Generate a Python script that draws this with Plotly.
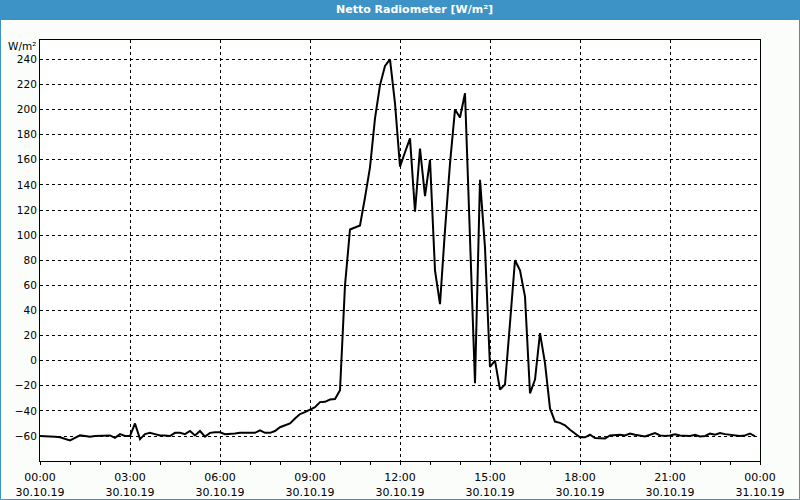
import pandas as pd
import plotly.graph_objects as go

# ---- data (10-minute samples, 30.10.2019 00:00 .. 23:50) ----
start_time = "2019-10-30 00:00"
values = [
    -60, -60, -60, -60.5, -61, -62.5, -63.5, -61.5, -59.5, -60, -60.5, -60,
    -60, -60, -59.5, -61.5, -58.5, -60, -60, -50, -62.5, -58.5, -57.5, -58.5,
    -59.5, -59.5, -60, -57.5, -57.5, -58.5, -56, -59.5, -56, -60.5, -57.5, -57,
    -57, -58.5, -58.5, -58, -57.5, -57.5, -57.5, -57.5, -55.5, -57.5, -57.5, -56,
    -53, -51.5, -50, -46, -42.5, -41, -39, -37, -33, -32.8, -31, -30.6,
    -23.5, 60, 104.5, 106, 107.7, 130, 154, 193, 219.5, 234.7, 240, 205,
    154.5, 166, 177, 118.6, 169, 131, 160, 72, 45, 104, 157, 200,
    193.7, 213, 90, -18, 144, 90, -5, 0, -23, -19, 30, 80,
    72, 51, -26, -15, 22, -2, -38, -48.5, -49.5, -51.5, -55, -58,
    -61, -61, -59, -61.6, -62, -62, -59.5, -59, -59, -59.5, -58, -59,
    -59.5, -60.3, -59, -57.6, -59.5, -60, -59.5, -58.7, -59.5, -60, -60, -59,
    -60.3, -60, -58, -59, -57.6, -58.5, -59, -59.5, -60, -59.5, -58, -60.3,
]
times = pd.date_range(start_time, periods=len(values), freq="10min")

tick_vals = ["2019-10-30 00:00", "2019-10-30 03:00", "2019-10-30 06:00",
             "2019-10-30 09:00", "2019-10-30 12:00", "2019-10-30 15:00",
             "2019-10-30 18:00", "2019-10-30 21:00", "2019-10-31 00:00"]
tick_hours = ["00:00", "03:00", "06:00", "09:00", "12:00", "15:00", "18:00", "21:00", "00:00"]
tick_dates = ["30.10.19"] * 8 + ["31.10.19"]
y_ticks = [240, 220, 200, 180, 160, 140, 120, 100, 80, 60, 40, 20, 0, -20, -40, -60]

title_text = "Netto Radiometer [W/m²]"
unit_text = "W/m²"

BLUE = "#3d93c6"
BG = "#fbfdfb"
FONT = "DejaVu Sans"

fig = go.Figure()
fig.add_trace(go.Scatter(x=times, y=values, mode="lines",
                         line=dict(color="black", width=2), hoverinfo="skip"))

W, H = 800, 500
L, R, T, B = 40, 40, 40, 39
pw, ph = W - L - R, H - T - B

def px_x(px):
    return (px - L) / pw

def px_y(py):
    return (H - B - py) / ph

fig.update_layout(
    width=W, height=H,
    margin=dict(l=L, r=R, t=T, b=B, autoexpand=False),
    paper_bgcolor=BG, plot_bgcolor="white",
    showlegend=False,
    font=dict(family=FONT, size=10.5, color="black"),
    xaxis=dict(
        type="date",
        range=["2019-10-30 00:00", "2019-10-31 00:00"],
        tickvals=tick_vals,
        ticktext=[f"{h}<br>{d}" for h, d in zip(tick_hours, tick_dates)],
        tickfont=dict(family=FONT, size=11, color="black"),
        ticks="outside", ticklen=3, tickcolor="black", tickwidth=1,
        ticklabelstandoff=3,
        minor=dict(dtick=3600000, ticks="outside", ticklen=3, tickcolor="black", showgrid=False),
        showgrid=True, gridcolor="black", gridwidth=1, griddash="3px,3px",
        showline=True, linecolor="black", linewidth=1, mirror=True,
        zeroline=False, fixedrange=True, automargin=False,
    ),
    yaxis=dict(
        range=[-79.9, 255.4],
        tickvals=y_ticks,
        ticks="", ticklen=0,
        showgrid=True, gridcolor="black", gridwidth=1, griddash="3px,3px",
        showline=True, linecolor="black", linewidth=1, mirror=True,
        zeroline=False, fixedrange=True, automargin=False,
    ),
    shapes=[
        dict(type="rect", xref="paper", yref="paper",
             x0=px_x(0), x1=px_x(W), y0=px_y(20), y1=px_y(0),
             fillcolor=BLUE, line=dict(width=0), layer="above"),
        dict(type="rect", xref="paper", yref="paper",
             x0=px_x(0.5), x1=px_x(W - 0.5), y0=px_y(H - 0.5), y1=px_y(0.5),
             fillcolor="rgba(0,0,0,0)", line=dict(color=BLUE, width=1), layer="above"),
    ],
    annotations=[
        dict(text=f"<b>{title_text}</b>", xref="paper", yref="paper",
             x=px_x(414), y=px_y(10), xanchor="center", yanchor="middle",
             showarrow=False, font=dict(family=FONT, size=11, color="white")),
        dict(text=unit_text, xref="paper", yref="paper",
             x=px_x(38), y=px_y(46), xanchor="right", yanchor="middle",
             showarrow=False, font=dict(family=FONT, size=10.5, color="black")),
    ],
)

fig.write_html("out.html")
